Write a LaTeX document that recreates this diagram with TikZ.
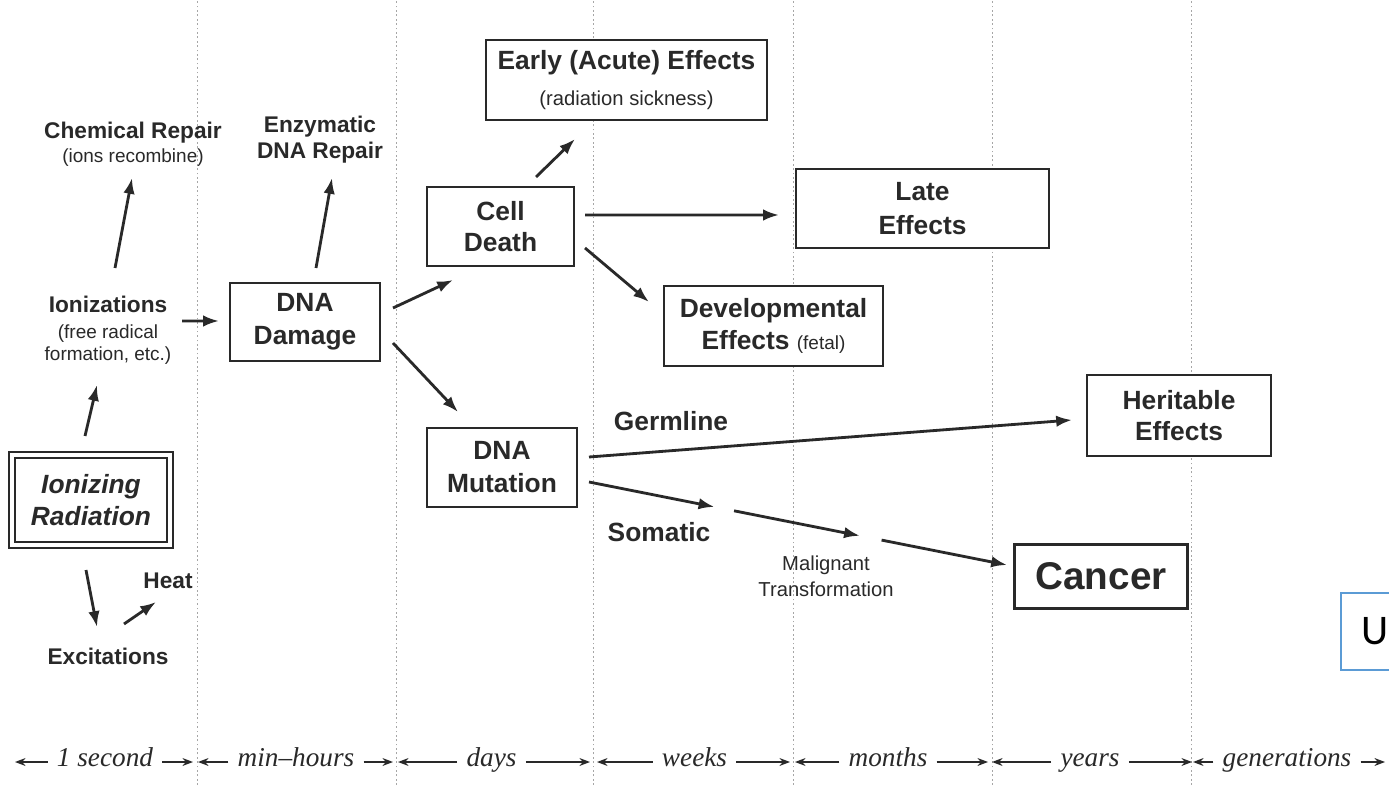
\documentclass[tikz,border=0pt]{standalone}
\usepackage{fontspec}
\setmainfont{Liberation Sans}
\newfontfamily\timefont{Liberation Serif}
\newfontfamily\ufont{Carlito}
\usepackage{tikz}
\usepackage{xcolor}
\usetikzlibrary{arrows.meta, positioning, calc}

\definecolor{ink}{gray}{0.16}
\definecolor{uline}{RGB}{91,155,213}
\newcommand{\subtxt}{\fontsize{10.8}{12.5}\selectfont\mdseries}

\begin{document}
\begin{tikzpicture}[x=2cm, y=2cm,
  box/.style={draw=ink, fill=white, line width=1.1pt, text=ink, align=center, inner sep=0pt,
    font=\fontsize{15}{18}\selectfont\bfseries},
  lab/.style={text=ink, align=center, inner sep=1pt, font=\fontsize{12.9}{15}\selectfont\bfseries},
  arr/.style={draw=ink, line width=1.6pt, -{Latex[length=9pt,width=6.5pt]}},
  tl/.style={text=ink, inner xsep=0.18cm, inner ysep=0pt, text height=1ex, text depth=0pt,
    font=\fontsize{15.5}{18}\timefont\itshape},
  tlarr/.style={draw=ink, line width=0.8pt, -{Stealth[length=6pt,width=4.5pt]}},
  gridline/.style={draw=black!35, line width=0.5pt, dash pattern=on 1pt off 1.5pt}]
\useasboundingbox[fill=white] (0,0) rectangle (13.89,7.85);

% Time columns
\foreach \gx in {1.97,3.96,5.93,7.93,9.92,11.91}
  \draw[gridline] (\gx,0) -- (\gx,7.85);

% Source
\node[box, double, double distance=2.5pt, line width=1pt, minimum width=3.16cm, minimum height=1.8cm,
  font=\fontsize{15}{18}\selectfont\bfseries\itshape] (ionrad) at (0.91,2.85) {Ionizing\\Radiation};

% Physical and chemical stage
\node[lab] (ioniz) at (1.08,4.55) {Ionizations\\{\subtxt (free radical}\\[-2.5pt]{\subtxt formation, etc.)}};
\node[lab] (chem) at (1.33,6.41) {Chemical Repair\\[-1.3pt]{\subtxt (ions recombine)}};
\node[lab] (excit) at (1.08,1.29) {Excitations};
\node[lab] (heat) at (1.68,2.04) {Heat};
\node[lab] (enzy) at (3.20,6.455) {Enzymatic\\DNA Repair};

% Biological stage
\node[box, minimum width=3.0cm, minimum height=1.56cm] (dnadam) at (3.05,4.63) {DNA\\[0.8pt]Damage};
\node[box, minimum width=2.94cm, minimum height=1.58cm] (celldeath) at (5.005,5.585) {Cell\\Death};
\node[box, minimum width=3.0cm, minimum height=1.58cm] (dnamut) at (5.02,3.175) {DNA\\[0.8pt]Mutation};

% Effects
\node[box, minimum width=5.62cm, minimum height=1.6cm] (early) at (6.265,7.05)
  {Early (Acute) Effects\\[2.5pt]{\fontsize{11.5}{14}\selectfont\mdseries (radiation sickness)}};
\node[box, minimum width=5.06cm, minimum height=1.58cm] (late) at (9.225,5.765) {Late\\[1.4pt]Effects};
\node[box, minimum width=4.38cm, minimum height=1.6cm] (devel) at (7.735,4.59)
  {Developmental\\Effects {\subtxt (fetal)}};
\node[box, minimum width=3.68cm, minimum height=1.62cm] (herit) at (11.79,3.695) {Heritable\\Effects};
\node[box, line width=1.8pt, minimum width=3.46cm, minimum height=1.28cm,
  font=\fontsize{22}{24}\selectfont\bfseries] (cancer) at (11.01,2.085) {Cancer};

% Pathway labels
\node[lab, font=\fontsize{15}{18}\selectfont\bfseries] (germ) at (6.71,3.64) {Germline};
\node[lab, font=\fontsize{15}{18}\selectfont\bfseries] (soma) at (6.59,2.53) {Somatic};
\node[lab, font=\fontsize{11.5}{14.8}\selectfont] (malig) at (8.26,2.09) {Malignant\\Transformation};

% Arrows
\draw[arr] ([shift={(-0.06,0.64)}]ionrad.center) -- ([shift={(-0.11,-0.55)}]ioniz.center);
\draw[arr] ([shift={(-0.05,-0.70)}]ionrad.center) -- ([shift={(-0.11,0.29)}]excit.center);
\draw[arr] ([shift={(0.16,0.32)}]excit.center) -- ([shift={(-0.12,-0.21)}]heat.center);
\draw[arr] ([shift={(0.07,0.62)}]ioniz.center) -- ([shift={(-0.01,-0.34)}]chem.center);
\draw[arr] ([shift={(0.74,0.09)}]ioniz.center) -- ([shift={(-0.86,0.01)}]dnadam.center);
\draw[arr] ([shift={(0.11,0.54)}]dnadam.center) -- ([shift={(0.12,-0.385)}]enzy.center);
\draw[arr] ([shift={(0.88,0.14)}]dnadam.center) -- ([shift={(-0.475,-0.535)}]celldeath.center);
\draw[arr] ([shift={(0.88,-0.21)}]dnadam.center) -- ([shift={(-0.44,0.555)}]dnamut.center);
\draw[arr] ([shift={(0.355,0.495)}]celldeath.center) -- ([shift={(-0.515,-0.59)}]early.center);
\draw[arr] ([shift={(0.845,0.115)}]celldeath.center) -- ([shift={(-1.435,-0.065)}]late.center);
\draw[arr] ([shift={(0.845,-0.215)}]celldeath.center) -- ([shift={(-1.245,0.24)}]devel.center);
\draw[arr] ([shift={(0.87,0.105)}]dnamut.center) -- ([shift={(-1.07,-0.045)}]herit.center);

% Somatic path, in three steps
\coordinate (somA) at ([shift={(0.87,-0.145)}]dnamut.center);
\coordinate (somB) at ([shift={(-0.94,0.115)}]cancer.center);
\draw[arr] (somA) -- ($(somA)!0.30!(somB)$);
\draw[arr] ($(somA)!0.347!(somB)$) -- ($(somA)!0.648!(somB)$);
\draw[arr] ($(somA)!0.70!(somB)$) -- (somB);

% Time axis
\foreach \lab/\cx/\l/\r [count=\i] in {1 second/1.05/0.15/1.93, min\textendash hours/2.96/1.98/3.93,
    days/4.915/3.98/5.90, weeks/6.945/5.97/7.90, months/8.88/7.95/9.88,
    years/10.90/9.92/11.92, generations/12.87/11.93/13.85} {
  \node[tl] (tl\i) at (\cx,0.23) {\lab};
  \draw[tlarr] (tl\i.west) -- (\l,0.23);
  \draw[tlarr] (tl\i.east) -- (\r,0.23);
}

% Blue frame at the right edge
\node[draw=uline, fill=white, line width=0.8pt, minimum width=1.36cm, minimum height=1.54cm, inner sep=0pt,
  font=\fontsize{24}{24}\ufont] (ubox) at (13.75,1.535) {U};
\end{tikzpicture}
\end{document}
